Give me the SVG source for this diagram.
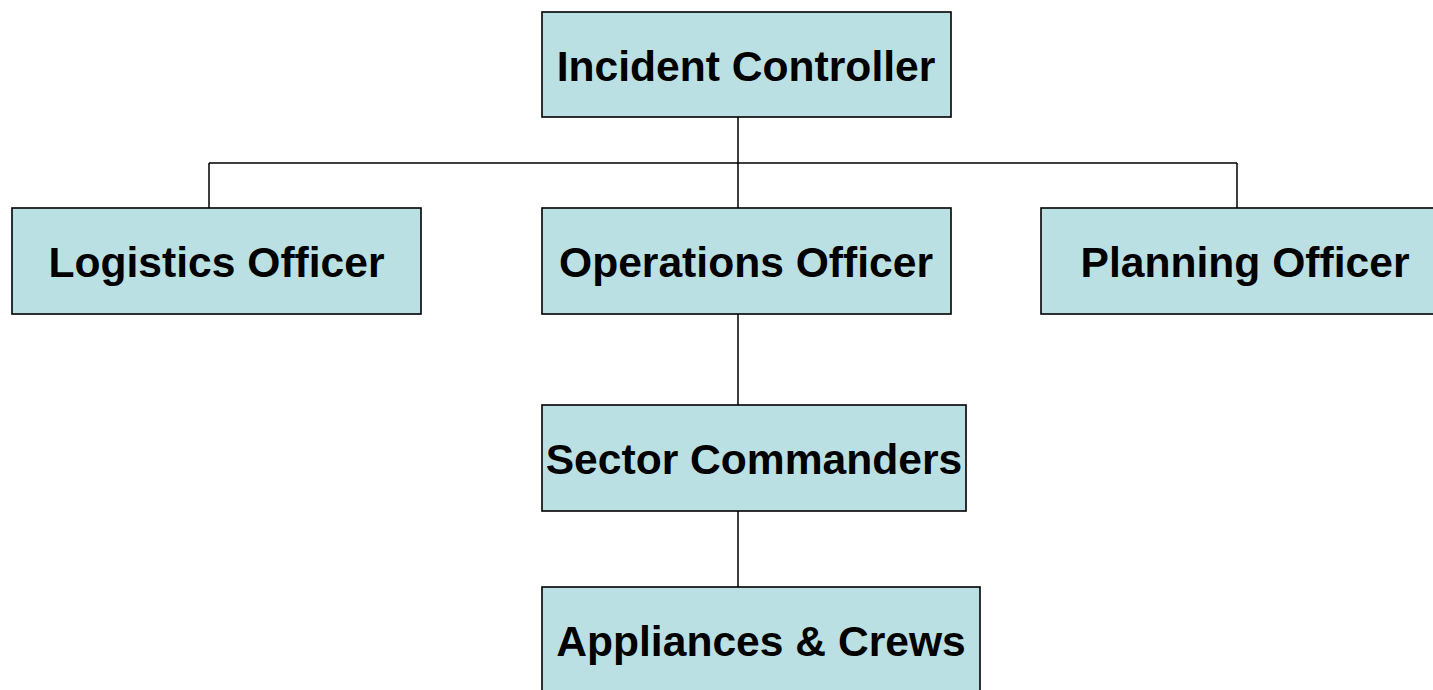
<svg xmlns="http://www.w3.org/2000/svg" width="1433" height="690" viewBox="0 0 1433 690">
<style>
.box{fill:#BBE0E3;stroke:#000;stroke-width:1.6}
.lbl{font-family:"Liberation Sans",Arial,sans-serif;font-weight:bold;font-size:42.6px;fill:#000;text-anchor:middle}
.conn{fill:none;stroke:#000;stroke-width:1.5}
</style>
<rect width="1433" height="690" fill="#fff"/>
<g id="connectors">
<path class="conn" d="M738 117V208M209 163H1237M209 163V208M1237 163V208M738 314V405M738 511V587"/>
</g>
<g id="incident-controller">
<rect class="box" x="542" y="12" width="409" height="105"/>
<text class="lbl" x="746" y="81">Incident Controller</text>
</g>
<g id="logistics-officer">
<rect class="box" x="12" y="208" width="409" height="106"/>
<text class="lbl" x="216.5" y="277">Logistics Officer</text>
</g>
<g id="operations-officer">
<rect class="box" x="542" y="208" width="409" height="106"/>
<text class="lbl" x="746" y="277">Operations Officer</text>
</g>
<g id="planning-officer">
<rect class="box" x="1041" y="208" width="409" height="106"/>
<text class="lbl" x="1245" y="277">Planning Officer</text>
</g>
<g id="sector-commanders">
<rect class="box" x="542" y="405" width="424" height="106"/>
<text class="lbl" x="754" y="474">Sector Commanders</text>
</g>
<g id="appliances-crews">
<rect class="box" x="542" y="587" width="438" height="107"/>
<text class="lbl" x="761" y="656">Appliances &amp; Crews</text>
</g>
</svg>
